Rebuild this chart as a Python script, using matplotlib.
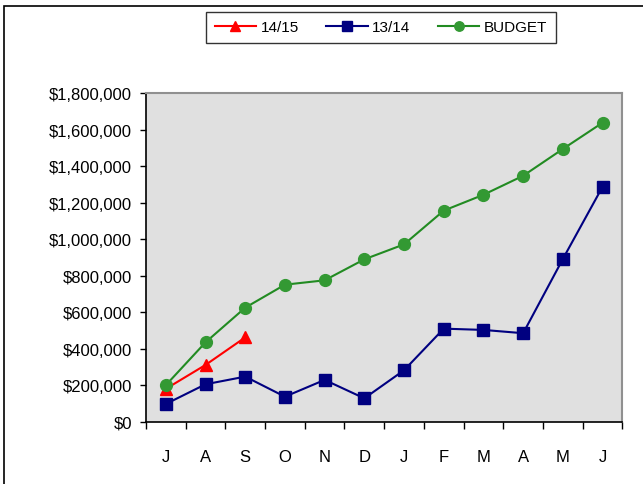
import matplotlib
matplotlib.use("Agg")
import matplotlib.pyplot as plt
from matplotlib.patches import Rectangle
from matplotlib.ticker import FuncFormatter, MultipleLocator
import numpy as np

plt.rcParams['font.family'] = ['Liberation Sans', 'DejaVu Sans']

months = ["J", "A", "S", "O", "N", "D", "J", "F", "M", "A", "M", "J"]
actual_1415 = [180000, 311000, 462000]
actual_1314 = [97000, 205000, 247000, 137000, 229000, 128000, 282000,
               510000, 503000, 485000, 892000, 1288000]
budget = [200000, 435000, 625000, 751000, 775000, 890000, 972000,
          1157000, 1244000, 1348000, 1495000, 1639000]

fig = plt.figure(figsize=(6.43, 4.85), dpi=100)
ax = fig.add_axes([0.227, 0.1285, 0.741, 0.677])
ax.set_facecolor("#E0E0E0")

x_all = np.arange(len(months))
ax.plot(x_all[:len(actual_1415)], actual_1415, color="#FF0000", lw=1.5,
        marker="^", markersize=9, label="14/15", zorder=4)
ax.plot(x_all, actual_1314, color="#000080", lw=1.5,
        marker="s", markersize=8.5, label="13/14", zorder=3)
ax.plot(x_all, budget, color="#228B22", lw=1.5, marker="o",
        markersize=8.5, markerfacecolor="#339933", markeredgecolor="#339933",
        label="BUDGET", zorder=5)

ax.set_xlim(-0.5, len(months) - 0.5)
ax.set_ylim(0, 1800000)
ax.yaxis.set_major_locator(MultipleLocator(200000))
ax.yaxis.set_major_formatter(FuncFormatter(lambda v, p: "${:,.0f}".format(v)))
ax.tick_params(axis="y", direction="out", length=4, width=1, labelsize=12,
               pad=6)

# category boundaries carry the tick marks, labels sit at category centres
ax.set_xticks(np.arange(-0.5, len(months), 1.0))
ax.set_xticklabels([])
ax.set_xticks(x_all, minor=True)
ax.set_xticklabels(months, minor=True)
ax.tick_params(axis="x", which="major", direction="out", length=5, width=1)
ax.tick_params(axis="x", which="minor", length=0, labelsize=12, pad=20)

for side in ("left", "bottom"):
    ax.spines[side].set_color("black")
    ax.spines[side].set_linewidth(1.2)
for side in ("top", "right"):
    ax.spines[side].set_color("#909090")
    ax.spines[side].set_linewidth(1.5)

leg = fig.legend(loc="center", bbox_to_anchor=(0.5925, 0.942), ncol=3,
                 fontsize=11, frameon=True, fancybox=False, edgecolor="black",
                 handlelength=2.7, numpoints=1, markerscale=0.8,
                 columnspacing=1.8, handletextpad=0.3, borderpad=0.55)
leg.get_frame().set_linewidth(1.0)

# outer chart frame
fig.patches.append(Rectangle((4 / 643, -0.1), 1.2, 1 - 7 / 485 + 0.1,
                             transform=fig.transFigure, fill=False,
                             edgecolor="black", linewidth=1.2))

fig.savefig("out.png", dpi=100)
